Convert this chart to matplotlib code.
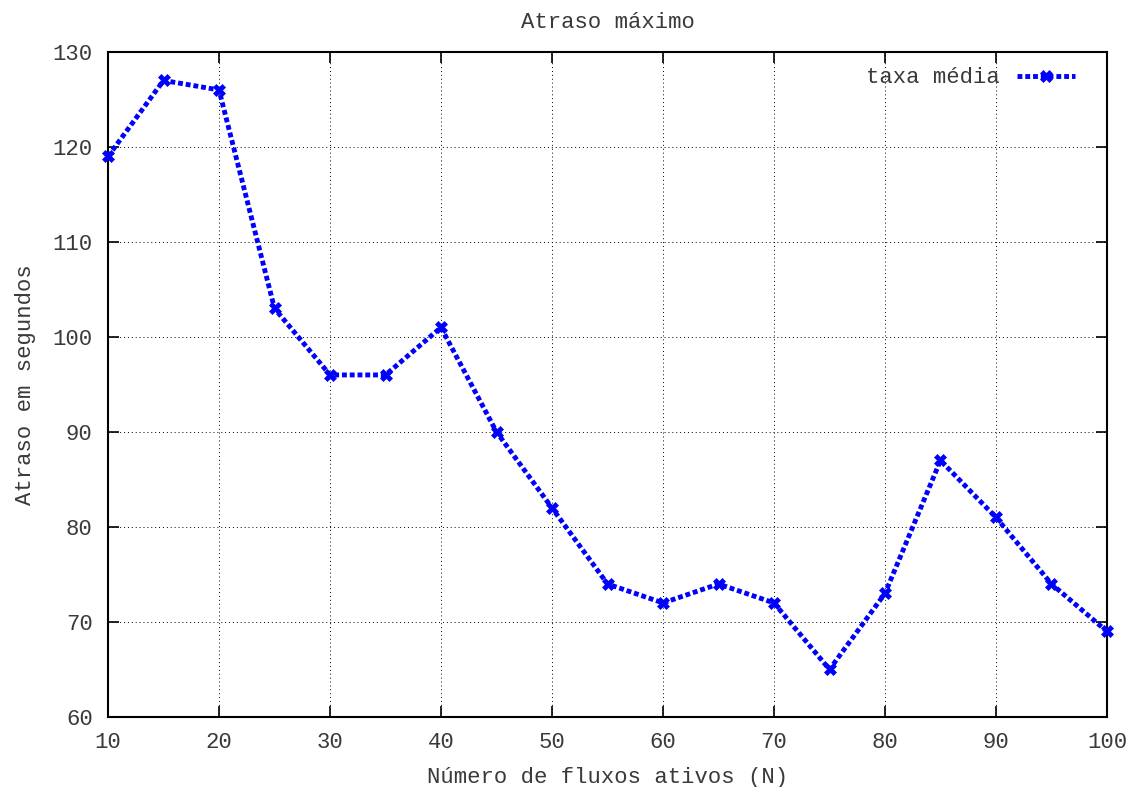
import matplotlib
matplotlib.use("Agg")
import matplotlib.pyplot as plt

plt.rcParams['font.family'] = ['Liberation Mono', 'DejaVu Sans Mono']

# Número de fluxos ativos vs atraso máximo
fluxos = [10, 15, 20, 25, 30, 35, 40, 45, 50, 55, 60, 65, 70, 75, 80, 85, 90, 95, 100]
atraso = [119, 127, 126, 103, 96, 96, 101, 90, 82, 74, 72, 74, 72, 65, 73, 87, 81, 74, 69]

fig = plt.figure(figsize=(11.43, 7.87), dpi=100)
ax = fig.add_axes([0.0945, 0.089, 0.874, 0.845])

ax.plot(fluxos, atraso, color='#0000ff', linestyle=(0, (1, 0.6)), linewidth=3.5,
        marker='X', markersize=9, markeredgewidth=0.5, label='taxa média',
        clip_on=False, zorder=5)

ax.set_xlim(10, 100)
ax.set_ylim(60, 130)
ax.set_xticks(range(10, 101, 10))
ax.set_yticks(range(60, 131, 10))
ax.tick_params(direction='in', top=True, right=True, length=8, width=1.2,
               labelsize=16, colors='black')
ax.tick_params(axis='y', pad=11)
ax.tick_params(axis='x', pad=11)
for lab in ax.get_xticklabels() + ax.get_yticklabels():
    lab.set_color('#3a3a3a')
for s in ax.spines.values():
    s.set_linewidth(1.5)
ax.grid(True, color='black', linestyle=(0, (1, 3)), linewidth=0.7)

ax.set_title('Atraso máximo', fontsize=16, color='#3a3a3a', pad=17)
ax.set_xlabel('Número de fluxos ativos (N)', fontsize=16, color='#3a3a3a', labelpad=10)
ax.set_ylabel('Atraso em segundos', fontsize=16, color='#3a3a3a', labelpad=12)

leg = ax.legend(loc='upper right', frameon=False, markerfirst=False, fontsize=16,
                handlelength=2.6, handletextpad=0.8, borderaxespad=0.0,
                bbox_to_anchor=(0.977, 0.99))
for t in leg.get_texts():
    t.set_color('#3a3a3a')

fig.savefig('out.png', dpi=100)
